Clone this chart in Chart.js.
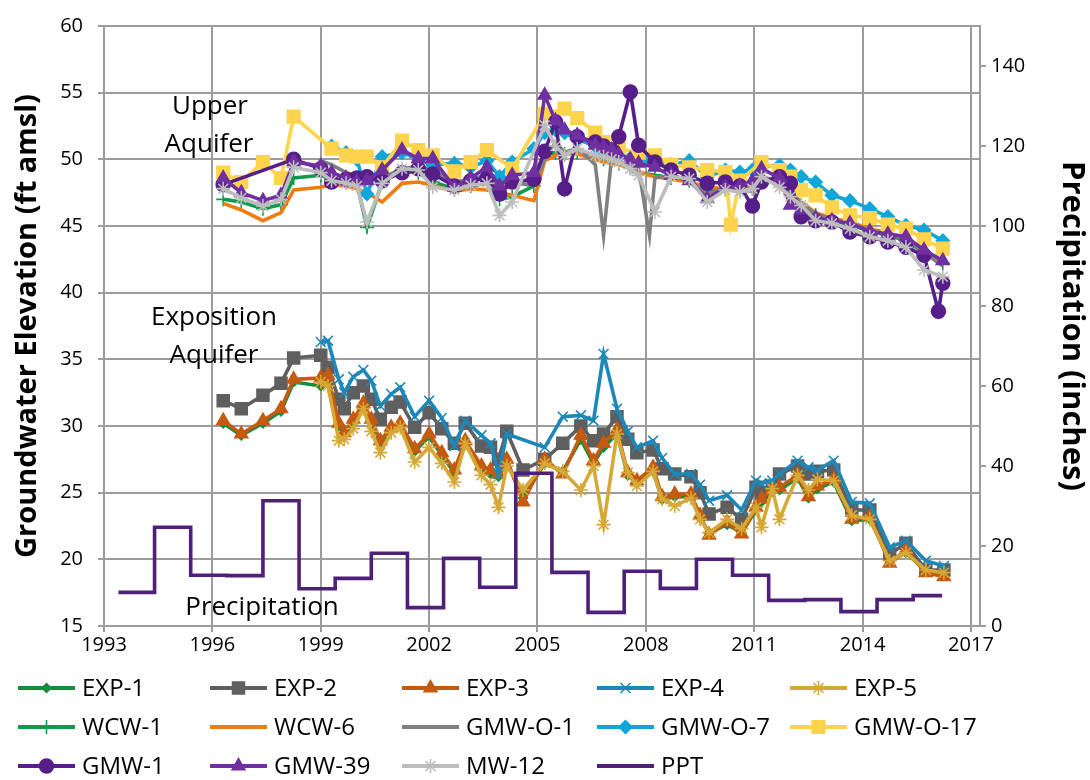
<!DOCTYPE html>
<html>
<head>
<meta charset="utf-8">
<script src="https://cdn.jsdelivr.net/npm/chart.js@4.4.1/dist/chart.umd.min.js"></script>
<style>
  html, body { margin: 0; padding: 0; background: #fff; }
  #wrap { width: 1090px; height: 780px; }
</style>
</head>
<body>
<div id="wrap"><canvas id="chart" width="1090" height="780"></canvas></div>
<script>
// ---- data (decimal years, ft amsl / inches) ----
const X_TICKS = [1993, 1996, 1999, 2002, 2005, 2008, 2011, 2014, 2017];
const Y_TICKS = [15, 20, 25, 30, 35, 40, 45, 50, 55, 60];
const PPT_TICKS = [0, 20, 40, 60, 80, 100, 120, 140];

// Exposition aquifer wells
const EXP_DATES = [1996.3, 1996.8, 1997.4, 1997.9, 1998.25, 1999.0, 1999.2, 1999.5, 1999.65, 1999.9,
  2000.18, 2000.4, 2000.65, 2000.95, 2001.2, 2001.6, 2002.0, 2002.35, 2002.7, 2003.0,
  2003.45, 2003.7, 2003.92, 2004.15, 2004.6, 2005.2, 2005.7, 2006.2, 2006.55, 2006.83,
  2007.2, 2007.5, 2007.75, 2008.2, 2008.45, 2008.8, 2009.25, 2009.5, 2009.75, 2010.25,
  2010.65, 2011.05, 2011.2, 2011.5, 2011.7, 2012.2, 2012.5, 2012.75, 2013.2, 2013.7,
  2014.2, 2014.75, 2015.2, 2015.75, 2016.25];
const EXP_1 = [30.2, 29.3, 30.2, 31.1, 33.3, 33.0, 33.2, 30.0, 29.3, 30.3,
  31.4, 30.3, 28.7, 29.7, 30.0, 28.1, 29.2, 27.8, 26.5, 28.6,
  26.8, 26.4, 26.2, 27.3, 24.6, 27.2, 26.6, 29.0, 27.2, 28.4,
  29.4, 26.3, 25.7, 26.6, 24.5, 24.7, 24.7, 23.1, 22.0, 22.6,
  22.0, 23.7, 24.3, 25.1, 25.2, 26.1, 24.6, 25.3, 25.8, 22.9,
  23.0, 19.9, 20.5, 19.1, 18.9];
const EXP_2 = [31.9, 31.3, 32.3, 33.2, 35.1, 35.3, 34.4, 32.0, 31.3, 32.5,
  33.0, 32.0, 30.5, 31.4, 31.8, 29.9, 31.0, 29.8, 28.7, 30.2,
  28.5, 28.4, 27.5, 29.6, 26.7, 27.5, 28.7, 30.0, 28.9, 29.4,
  30.7, 29.0, 28.0, 28.2, 26.8, 26.4, 26.2, 25.0, 23.4, 23.9,
  23.0, 25.4, 25.0, 25.5, 26.4, 27.0, 26.4, 26.6, 26.7, 23.7,
  23.7, 20.4, 21.2, 19.2, 19.2];
const EXP_3 = [30.4, 29.4, 30.4, 31.3, 33.5, 33.6, 33.8, 30.2, 29.5, 30.5,
  31.7, 30.5, 28.9, 29.9, 30.2, 28.3, 29.4, 28.0, 26.7, 28.9,
  27.0, 26.7, 26.4, 27.5, 24.3, 27.5, 26.4, 29.3, 27.4, 28.7,
  29.7, 26.5, 25.9, 26.9, 24.7, 24.9, 24.9, 23.3, 21.8, 22.8,
  21.9, 23.9, 24.5, 25.3, 25.4, 26.3, 24.7, 25.5, 26.0, 23.0,
  23.2, 19.7, 20.7, 19.0, 18.7];
const EXP_4 = [null, null, null, null, null, 36.3, 36.4, 33.5, 32.5, 33.7,
  34.2, 33.4, 31.5, 32.4, 32.9, 30.7, 31.9, 30.6, 28.5, 30.4,
  29.3, 28.7, 26.4, 29.4, null, 28.4, 30.7, 30.8, 30.4, 35.4,
  31.3, 29.6, 28.4, 28.9, 27.6, 26.4, 26.4, 25.6, 24.4, 24.8,
  23.7, 25.9, 25.7, 25.9, 26.4, 27.4, 26.9, 26.7, 27.4, 24.3,
  24.2, 20.9, 21.4, 19.9, 19.5];
const EXP_5 = [null, null, null, null, null, 33.3, 33.0, 28.9, 29.0, 29.8,
  31.3, 29.6, 28.0, 29.5, 29.9, 27.3, 28.4, 27.2, 25.8, 28.7,
  26.3, 25.6, 23.9, 27.0, 25.2, 27.2, 26.6, 25.2, 27.0, 22.6,
  29.4, 26.5, 25.5, 26.6, 24.5, 24.0, 24.6, 23.0, 22.0, 23.0,
  22.3, 23.9, 22.4, 25.3, 23.0, 26.3, 25.2, 26.0, 25.9, 23.3,
  23.0, 19.9, 20.5, 19.2, 19.0];

// Upper aquifer wells
const UP_DATES = [1996.3, 1996.8, 1997.4, 1997.9, 1998.25, 1999.0, 1999.3, 1999.7, 2000.0, 2000.28,
  2000.7, 2001.25, 2001.7, 2002.1, 2002.7, 2003.15, 2003.6, 2003.95, 2004.3, 2004.9,
  2005.2, 2005.5, 2005.75, 2006.1, 2006.6, 2006.83, 2007.05, 2007.25, 2007.57, 2007.8,
  2008.1, 2008.25, 2008.7, 2009.2, 2009.7, 2010.2, 2010.35, 2010.6, 2010.95, 2011.2,
  2011.7, 2012.0, 2012.3, 2012.7, 2013.15, 2013.65, 2014.2, 2014.7, 2015.2, 2015.7,
  2016.1, 2016.22];
const WCW_1 = [47.0, 46.8, 46.3, 46.6, 48.6, 48.8, 48.5, 48.3, 48.2, 44.9,
  48.3, 49.1, 49.0, 48.3, 47.8, 48.0, 48.2, 47.0, 47.2, 48.0,
  50.4, 50.5, 50.4, 50.5, 50.2, 50.0, 49.9, 49.7, 49.4, 49.0,
  null, 48.8, 48.6, 48.4, 47.6, 47.8, null, 47.7, 47.8, 48.4,
  48.3, 47.4, 46.6, 45.8, 45.4, 45.1, 44.6, 44.3, 43.9, 43.0,
  null, 42.2];
const WCW_6 = [46.7, 46.2, 45.4, 46.0, 47.7, 47.9, 48.1, 48.0, 47.8, 47.5,
  46.8, 48.2, 48.3, 48.05, 47.6, 47.8, 47.7, 47.5, 47.3, 46.9,
  49.9, 50.3, 50.55, 50.4, 50.0, 49.8, 49.7, 49.6, 49.3, 49.0,
  null, 48.7, 48.5, 48.3, 47.9, 47.8, null, 47.8, 47.9, 48.5,
  48.4, 47.6, 46.8, 46.0, 45.6, 45.3, 44.8, 44.5, 44.1, 43.2,
  null, 42.1];
const GMW_O_1 = [null, null, null, null, null, 49.9, 49.6, 49.0, 48.8, 48.5,
  48.6, 49.3, 49.5, 49.2, 48.3, 48.5, 48.8, 47.8, 48.2, 48.1,
  50.0, 51.3, 50.5, 50.9, 49.6, 44.3, 50.1, 49.9, 49.5, 49.3,
  44.3, 48.6, 48.8, 48.4, 47.4, 47.9, null, 47.7, 47.6, 48.6,
  48.5, 47.5, 46.7, 45.9, 45.5, 45.2, 44.7, 44.4, 44.0, 43.0,
  null, 42.0];
const GMW_O_7 = [null, null, null, null, null, null, 51.0, 50.5, 50.0, 47.4,
  50.2, 50.5, 50.0, 49.6, 49.7, 49.4, 49.9, 48.7, 49.8, 50.8,
  52.0, 52.2, 52.0, 51.5, 51.0, 50.5, 50.3, 50.3, 50.1, 50.0,
  49.9, 49.8, 49.6, 49.9, 48.7, 49.2, null, 49.05, 49.2, 49.4,
  49.55, 49.2, 48.7, 48.3, 47.3, 46.9, 46.3, 45.7, 45.05, 44.7,
  null, 43.9];
const GMW_O_17 = [49.0, 48.3, 49.8, 48.6, 53.2, null, 50.8, 50.3, 50.2, 50.2,
  49.4, 51.4, 50.7, 50.3, 49.1, 49.8, 50.7, null, 49.3, null,
  53.4, null, 53.8, 53.1, 52.0, 51.3, null, 50.8, null, 50.5,
  null, 50.3, 49.6, 49.4, 49.2, 49.05, 45.1, 48.4, null, 49.8,
  49.2, 48.7, 47.7, 47.3, 46.4, 45.8, 45.6, 45.1, 44.8, 44.0,
  null, 43.3];
const GMW_1 = [48.1, null, null, null, 50.0, 49.3, 48.3, 48.5, 48.6, 48.7,
  48.4, 49.0, 49.3, 48.9, 48.0, 48.4, 48.6, 47.4, 48.3, 48.5,
  50.6, 52.8, 47.8, 51.7, 51.3, 51.0, 50.7, 51.7, 55.05, 51.05,
  null, 49.8, 49.2, 48.8, 48.2, 48.3, null, 48.0, 46.5, 48.3,
  48.7, 48.2, 45.7, 45.4, 45.3, 44.55, 44.2, 43.8, 43.4, 42.8,
  38.6, 40.7];
const GMW_39 = [48.6, 47.5, 46.9, 47.3, 49.8, 49.5, 49.0, 48.6, 48.3, 48.4,
  49.2, 50.7, 50.05, 50.05, 47.9, 48.6, 49.4, 48.0, 48.8, 49.0,
  54.8, 52.9, 52.2, 51.8, 51.05, 50.9, 50.7, 50.4, 50.0, 49.7,
  null, 49.4, 48.8, 48.4, 47.05, 47.9, null, 48.0, 48.4, 49.3,
  48.6, 46.55, 46.2, 45.6, 45.4, 45.2, 44.6, 44.4, 44.2, 43.2,
  null, 42.4];
const MW_12 = [47.8, 47.1, 46.5, 47.0, 49.4, 49.0, 48.4, 48.2, 48.0, 45.3,
  48.2, 49.3, 49.2, 47.9, 47.7, 48.05, 48.2, 45.8, 46.8, null,
  52.55, 51.0, 50.3, 50.8, 50.3, 50.2, 50.0, 49.8, 49.3, 48.8,
  null, 46.05, 48.7, 48.55, 46.8, 47.7, null, 47.55, 47.8, 48.7,
  47.9, 47.2, 46.55, 45.4, 45.2, 44.8, 44.2, 43.9, 43.4, 41.7,
  null, 41.2];

// Annual precipitation (step series, right axis)
const PPT_YEARS = [1993.4, 1994.4, 1995.4, 1996.4, 1997.4, 1998.4, 1999.4, 2000.4, 2001.4, 2002.4,
  2003.4, 2004.4, 2005.4, 2006.4, 2007.4, 2008.4, 2009.4, 2010.4, 2011.4, 2012.4,
  2013.4, 2014.4, 2015.4, 2016.2];
const PPT_INCHES = [8.4, 24.7, 12.7, 12.6, 31.3, 9.3, 11.9, 18.2, 4.6, 16.9,
  9.7, 38.2, 13.4, 3.4, 13.7, 9.4, 16.7, 12.7, 6.4, 6.6,
  3.6, 6.6, 7.6, 7.6];

// ---- styling ----
const FONT = "'Open Sans', sans-serif";
const GRID = '#9c9c9c';

function pts(xs, ys) { return xs.map((x, i) => ({ x: x, y: ys[i] })); }

function series(label, data, color, pointStyle, radius, extra) {
  return Object.assign({
    label: label,
    data: data,
    borderColor: color,
    backgroundColor: color,
    pointBackgroundColor: color,
    pointBorderColor: color,
    pointStyle: pointStyle || 'circle',
    pointRadius: radius || 0,
    pointHoverRadius: radius || 0,
    pointBorderWidth: 1.5,
    borderWidth: 3.6,
    tension: 0,
    spanGaps: true,
    fill: false,
    yAxisID: 'y'
  }, extra || {});
}

const datasets = [
  series('EXP-1', pts(EXP_DATES, EXP_1), '#168c3e', 'rectRot', 4.5),
  series('EXP-2', pts(EXP_DATES, EXP_2), '#5f5f5f', 'rect', 8.5),
  series('EXP-3', pts(EXP_DATES, EXP_3), '#c55a11', 'triangle', 7.5),
  series('EXP-4', pts(EXP_DATES, EXP_4), '#1d88b8', 'crossRot', 7, { pointBorderWidth: 1.6 }),
  series('EXP-5', pts(EXP_DATES, EXP_5), '#d6a836', 'star', 7, { pointBorderWidth: 1.6 }),
  series('WCW-1', pts(UP_DATES, WCW_1), '#0d9b4c', 'cross', 7, { pointBorderWidth: 1.6 }),
  series('WCW-6', pts(UP_DATES, WCW_6), '#ee7c0e', 'circle', 0),
  series('GMW-O-1', pts(UP_DATES, GMW_O_1), '#808080', 'circle', 0),
  series('GMW-O-7', pts(UP_DATES, GMW_O_7), '#10a6da', 'rectRot', 6.5),
  series('GMW-O-17', pts(UP_DATES, GMW_O_17), '#ffd44d', 'rect', 9),
  series('GMW-1', pts(UP_DATES, GMW_1), '#561e88', 'circle', 7),
  series('GMW-39', pts(UP_DATES, GMW_39), '#7030a0', 'triangle', 7.5),
  series('MW-12', pts(UP_DATES, MW_12), '#bdbdbd', 'star', 7, { pointBorderWidth: 1.6 }),
  series('PPT', pts(PPT_YEARS, PPT_INCHES), '#4e2079', 'circle', 0, { yAxisID: 'y2', stepped: 'before' })
];
// later series drawn on top, like the original
datasets.forEach((d, i) => { d.order = datasets.length - i; });

const LEG_X = [18, 210, 402, 597, 790];
const LEG_Y = [688, 727, 766];
const LEG_LINE = 57;
const TICK_LEN = 6;

// gridlines and tick marks, drawn under the data
const gridPlugin = {
  id: 'gridPlugin',
  beforeDatasetsDraw(chart) {
    const ctx = chart.ctx;
    const a = chart.chartArea;
    const sx = chart.scales.x, sy = chart.scales.y, sy2 = chart.scales.y2;
    ctx.save();
    ctx.globalAlpha = 1;
    ctx.setLineDash([]);
    ctx.strokeStyle = GRID;
    ctx.lineWidth = 2;
    ctx.beginPath();
    X_TICKS.forEach(v => {
      const p = Math.round(sx.getPixelForValue(v));
      ctx.moveTo(p, a.top);
      ctx.lineTo(p, a.bottom + TICK_LEN);
    });
    Y_TICKS.forEach(v => {
      const p = Math.round(sy.getPixelForValue(v));
      ctx.moveTo(a.left - TICK_LEN, p);
      ctx.lineTo(a.right, p);
    });
    PPT_TICKS.forEach(v => {
      const p = Math.round(sy2.getPixelForValue(v));
      ctx.moveTo(a.right, p);
      ctx.lineTo(a.right + TICK_LEN, p);
    });
    ctx.moveTo(a.right, a.top);
    ctx.lineTo(a.right, a.bottom);
    ctx.stroke();
    ctx.restore();
  }
};

const overlay = {
  id: 'overlay',
  afterDatasetsDraw(chart) {
    const ctx = chart.ctx;
    ctx.save();
    ctx.fillStyle = '#000';
    ctx.font = '26px ' + FONT;
    ctx.textAlign = 'center';
    ctx.textBaseline = 'middle';
    ctx.fillText('Upper', 210, 107);
    ctx.fillText('Aquifer', 209, 145);
    ctx.fillText('Exposition', 214, 318);
    ctx.fillText('Aquifer', 214, 356);
    ctx.fillText('Precipitation', 262, 608);
    ctx.restore();
  },
  afterDraw(chart) {
    const ctx = chart.ctx;
    chart.data.datasets.forEach((ds, i) => {
      const x0 = LEG_X[i % 5];
      const y = LEG_Y[Math.floor(i / 5)];
      ctx.save();
      ctx.strokeStyle = ds.borderColor;
      ctx.lineWidth = 4;
      ctx.beginPath();
      ctx.moveTo(x0, y);
      ctx.lineTo(x0 + LEG_LINE, y);
      ctx.stroke();
      if (ds.pointRadius > 0) {
        ctx.fillStyle = ds.pointBackgroundColor;
        ctx.strokeStyle = ds.pointBorderColor;
        ctx.lineWidth = ds.pointBorderWidth;
        Chart.helpers.drawPoint(ctx, {
          pointStyle: ds.pointStyle, radius: ds.pointRadius, rotation: 0, borderWidth: ds.pointBorderWidth
        }, x0 + LEG_LINE / 2, y);
      }
      ctx.fillStyle = '#000';
      ctx.font = '24px ' + FONT;
      ctx.textAlign = 'left';
      ctx.textBaseline = 'middle';
      ctx.fillText(ds.label, x0 + LEG_LINE + 7, y + 1);
      ctx.restore();
    });
  }
};

// keep the plot box fixed whatever the tick padding is
function fixPad(s) { s.paddingTop = 12; s.paddingBottom = 12; }

new Chart(document.getElementById('chart'), {
  type: 'line',
  data: { datasets: datasets },
  options: {
    responsive: false,
    animation: false,
    events: [],
    layout: { padding: { top: 26, left: 0, right: 0, bottom: 0 } },
    plugins: { legend: { display: false }, tooltip: { enabled: false } },
    scales: {
      x: {
        type: 'linear', min: 1993, max: 2017.25,
        afterBuildTicks: s => { s.ticks = X_TICKS.map(v => ({ value: v })); },
        afterFit: s => { s.height = 154; },
        grid: { display: false, drawTicks: false },
        border: { color: GRID, width: 2 },
        ticks: {
          color: '#000', font: { family: FONT, size: 20 }, padding: 7, maxRotation: 0, autoSkip: false,
          callback: v => String(v)
        }
      },
      y: {
        position: 'left', min: 15, max: 60,
        afterBuildTicks: s => { s.ticks = Y_TICKS.map(v => ({ value: v })); },
        afterFit: s => { s.width = 104; fixPad(s); },
        grid: { display: false, drawTicks: false },
        border: { color: GRID, width: 2 },
        ticks: { color: '#000', font: { family: FONT, size: 20 }, padding: 21 },
        title: {
          display: true, text: 'Groundwater Elevation (ft amsl)', color: '#000',
          font: { family: FONT, size: 29, weight: 'bold' }, padding: { top: 10, bottom: 0 }
        }
      },
      y2: {
        position: 'right', min: 0, max: 150,
        afterBuildTicks: s => { s.ticks = PPT_TICKS.map(v => ({ value: v })); },
        afterFit: s => { s.width = 110; fixPad(s); },
        grid: { display: false, drawTicks: false },
        border: { color: GRID, width: 2 },
        ticks: { color: '#000', font: { family: FONT, size: 20 }, padding: 11 },
        title: {
          display: true, text: 'Precipitation (inches)', color: '#000',
          font: { family: FONT, size: 31, weight: 'bold' }, padding: { top: 0, bottom: 0 }
        }
      }
    }
  },
  plugins: [gridPlugin, overlay]
});
</script>
</body>
</html>
